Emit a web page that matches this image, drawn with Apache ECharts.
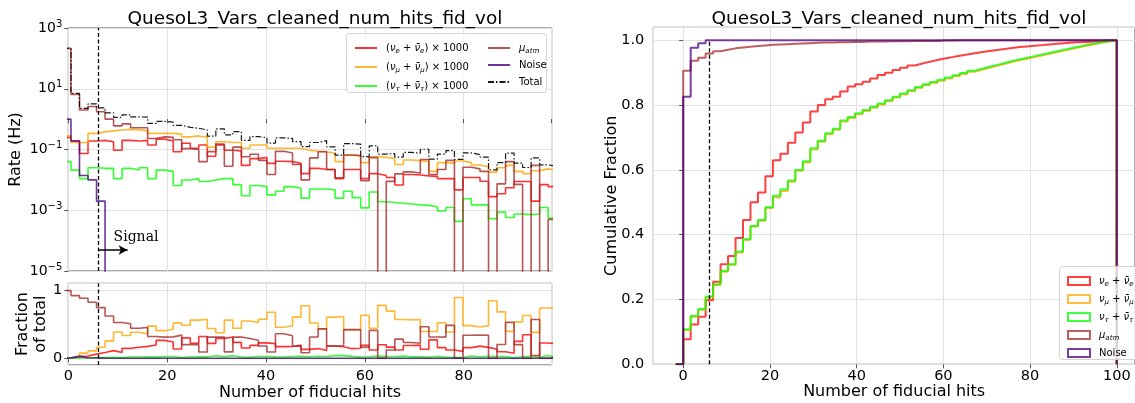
<!DOCTYPE html>
<html>
<head>
<meta charset="utf-8">
<script src="https://cdn.jsdelivr.net/npm/echarts@6/dist/echarts.min.js"></script>
<style>
  html, body { margin: 0; padding: 0; background: #ffffff; }
  #chart { width: 1135px; height: 403px; }
</style>
</head>
<body>
<div id="chart"></div>
<script>
// ---------------------------------------------------------------------------
// Binning of the fiducial-hit histograms
// ---------------------------------------------------------------------------
const BIN_WIDTH = 1.724;
const RATE_FIRST_EDGE = -1.184;   // lower edge of the first rate bin
const CUM_FIRST_EDGE = -1.724;    // lower edge of the first cumulative bin
const SIGNAL_CUT = 6;             // signal selection: hits above this value

// ---------------------------------------------------------------------------
// Rates per bin (Hz); neutrino flavours are scaled by 1000
// ---------------------------------------------------------------------------
const rateNuE1000 = [0.25, 0.19, 0.074, 0.19, 0.2, 0.18, 0.095, 0.2, 0.19, 0.2,
  0.14, 0.22, 0.19, 0.084, 0.16, 0.11, 0.14, 0.06, 0.14, 0.095,
  0.09, 0.03, 0.05, 0.055, 0.035, 0.041, 0.04, 0.035, 0.016, 0.024,
  0.022, 0.022, 0.011, 0.022, 0.022, 0.011, 0.016, 0.014, 0.012, 0.0068,
  0.015, 0.0145, 0.0135, 0.013, 0.011, 0.011, 0.0047, 0.012, 0.012, 0.009,
  0.0028, 0.0035, 0.0055, 0.0088, 0.0088, 0.002, 0.007, 0.006];

const rateNuMu1000 = [0.28, 0.17, 0.17, 0.34, 0.38, 0.41, 0.44, 0.46, 0.45, 0.41,
  0.34, 0.34, 0.34, 0.32, 0.26, 0.28, 0.25, 0.12, 0.18, 0.17,
  0.17, 0.11, 0.14, 0.14, 0.11, 0.11, 0.11, 0.11, 0.095, 0.088,
  0.084, 0.074, 0.04, 0.065, 0.062, 0.037, 0.058, 0.055, 0.051, 0.032,
  0.045, 0.043, 0.04, 0.019, 0.037, 0.035, 0.042, 0.037, 0.031, 0.027,
  0.018, 0.025, 0.03, 0.019, 0.016, 0.02, 0.023, 0.021];

const rateNuTau1000 = [0.04, 0.021, 0.011, 0.025, 0.024, 0.024, 0.011, 0.024, 0.021, 0.025,
  0.011, 0.021, 0.019, 0.0065, 0.0099, 0.011, 0.0088, 0.0099, 0.011, 0.011,
  0.007, 0.003, 0.0065, 0.006, 0.0032, 0.0042, 0.006, 0.0053, 0.0025, 0.005,
  0.005, 0.0047, 0.0025, 0.0042, 0.0026, 0.0012, 0.004, 0.0019, 0.0018, 0.0017,
  0.0016, 0.0015, 0.00145, 0.0013, 0.00095, 0.00123, 0.00043, 0.0024, 0.0015, 0.0015,
  0.00053, 0.00087, 0.00058, 0.00075, 0.00072, 0.00075, 0.00123, 0.00055];

const rateMuAtm = [214, 6.5, 2.0, 2.6, 1.75, 1.0, 0.6, 0.7, 0.52, 0.52,
  0.23, 0.26, 0.25, 0.21, 0.107, 0.10, 0.04, 0.085, 0.15, 0.028,
  0.12, 0.058, 0.07, 0.044, 0.015, 0.087, 0.077, 0.032, 0.01, 0.053,
  0.084, 0.022, 0.0117, 0.066, 0.063, 0.0094, 0.054, 0, 0.0089, 0.0157,
  0.0184, 0.0166, 0.047, 0.015, 0.022, 0.044, 0, 0.026, 0.023, 0.019,
  0, 0.0074, 0.04, 0.0071, 0, 0.03, 0, 0.0005];

const rateNoise = [1.0, 0.19, 0.014, 0.01, 0.002, 0, 0, 0, 0, 0,
  0, 0, 0, 0, 0, 0, 0, 0, 0, 0,
  0, 0, 0, 0, 0, 0, 0, 0, 0, 0,
  0, 0, 0, 0, 0, 0, 0, 0, 0, 0,
  0, 0, 0, 0, 0, 0, 0, 0, 0, 0,
  0, 0, 0, 0, 0, 0, 0, 0];

// ---------------------------------------------------------------------------
// Cumulative fractions per bin (first bin lies below zero hits)
// ---------------------------------------------------------------------------
const cumNuE = [0, 0.077, 0.123, 0.147, 0.198, 0.255, 0.309, 0.334, 0.39, 0.445, 0.50,
  0.53, 0.58, 0.63, 0.65, 0.684, 0.715, 0.746, 0.78, 0.80, 0.818,
  0.826, 0.842, 0.857, 0.864, 0.872, 0.882, 0.893, 0.9, 0.908, 0.915,
  0.922, 0.928, 0.934, 0.939, 0.944, 0.948, 0.952, 0.956, 0.96, 0.964,
  0.967, 0.97, 0.973, 0.976, 0.979, 0.981, 0.983, 0.985, 0.987, 0.989,
  0.991, 0.993, 0.994, 0.995, 0.996, 0.998, 0.999, 1.0];

const cumNuMu = [0, 0.106, 0.147, 0.168, 0.206, 0.245, 0.286, 0.307, 0.345, 0.384, 0.425,
  0.443, 0.482, 0.515, 0.535, 0.563, 0.597, 0.623, 0.663, 0.687, 0.71,
  0.724, 0.749, 0.76, 0.772, 0.782, 0.792, 0.802, 0.812, 0.823, 0.833,
  0.843, 0.853, 0.861, 0.868, 0.875, 0.882, 0.889, 0.896, 0.903, 0.909,
  0.915, 0.921, 0.927, 0.933, 0.938, 0.943, 0.948, 0.953, 0.958, 0.963,
  0.968, 0.973, 0.978, 0.983, 0.988, 0.992, 0.996, 1.0];

const cumNuTau = [0, 0.108, 0.149, 0.171, 0.209, 0.247, 0.289, 0.309, 0.348, 0.386, 0.427,
  0.445, 0.485, 0.52, 0.54, 0.567, 0.6, 0.627, 0.667, 0.69, 0.713,
  0.727, 0.752, 0.763, 0.775, 0.785, 0.795, 0.805, 0.815, 0.826, 0.836,
  0.846, 0.856, 0.864, 0.871, 0.878, 0.885, 0.892, 0.899, 0.906, 0.912,
  0.918, 0.924, 0.93, 0.936, 0.941, 0.946, 0.951, 0.956, 0.961, 0.966,
  0.971, 0.976, 0.981, 0.986, 0.99, 0.994, 0.997, 1.0];

const cumMuAtm = [0, 0.906, 0.937, 0.946, 0.959, 0.966, 0.971, 0.975, 0.978, 0.98, 0.982,
  0.984, 0.986, 0.987, 0.988, 0.989, 0.99, 0.991, 0.992, 0.993, 0.993,
  0.994, 0.994, 0.995, 0.995, 0.996, 0.996, 0.996, 0.997, 0.997, 0.997,
  0.998, 0.998, 0.998, 0.998, 0.999, 0.999, 1.0, 1.0, 1.0, 1.0,
  1.0, 1.0, 1.0, 1.0, 1.0, 1.0, 1.0, 1.0, 1.0, 1.0,
  1.0, 1.0, 1.0, 1.0, 1.0, 1.0, 1.0, 1.0];

const cumNoise = [0, 0.826, 0.977, 0.991, 1.0, 1.0, 1.0, 1.0, 1.0, 1.0, 1.0,
  1.0, 1.0, 1.0, 1.0, 1.0, 1.0, 1.0, 1.0, 1.0, 1.0,
  1.0, 1.0, 1.0, 1.0, 1.0, 1.0, 1.0, 1.0, 1.0, 1.0,
  1.0, 1.0, 1.0, 1.0, 1.0, 1.0, 1.0, 1.0, 1.0, 1.0,
  1.0, 1.0, 1.0, 1.0, 1.0, 1.0, 1.0, 1.0, 1.0, 1.0,
  1.0, 1.0, 1.0, 1.0, 1.0, 1.0, 1.0, 1.0];

// ---------------------------------------------------------------------------
// Styling
// ---------------------------------------------------------------------------
const FONT = 'DejaVu Sans';
const TXT = '#000000';
const COLORS = {
  nue: '#ff0000', numu: '#ffa500', nutau: '#00ff00',
  muatm: '#a52a2a', noise: '#4b0082', total: '#000000'
};
const LOG_FLOOR = -9;   // empty bins drop below the lower edge of the log axis

const LEGEND_TEXT = {
  nue: '({i|ν}{s|e} + {i|ν\u0304}{s|e}) × 1000',
  numu: '({i|ν}{s|μ} + {i|ν\u0304}{s|μ}) × 1000',
  nutau: '({i|ν}{s|τ} + {i|ν\u0304}{s|τ}) × 1000',
  muatm: '{i|μ}{s|atm}',
  noise: 'Noise',
  total: 'Total',
  c_nue: '{i|ν}{s|e} + {i|ν\u0304}{s|e}',
  c_numu: '{i|ν}{s|μ} + {i|ν\u0304}{s|μ}',
  c_nutau: '{i|ν}{s|τ} + {i|ν\u0304}{s|τ}',
  c_muatm: '{i|μ}{s|atm}',
  c_noise: 'Noise'
};
const LEGEND_RICH = {
  g: { width: 4 },
  i: { fontFamily: FONT, fontStyle: 'italic', fontSize: 10, lineHeight: 14, color: TXT },
  s: { fontFamily: FONT, fontStyle: 'italic', fontSize: 7, lineHeight: 8, verticalAlign: 'bottom', color: TXT }
};
const legendText = { fontFamily: FONT, fontSize: 10, lineHeight: 14, color: TXT, rich: LEGEND_RICH };

// ---------------------------------------------------------------------------
// Helpers: histogram outlines drawn as step polylines
// ---------------------------------------------------------------------------
function stepPath(values, firstEdge, width, f, base) {
  const pts = [[firstEdge, base]];
  for (let i = 0; i < values.length; i++) {
    const x0 = firstEdge + i * width;
    const y = f(values[i]);
    pts.push([x0, y], [x0 + width, y]);
  }
  pts.push([firstEdge + values.length * width, base]);
  return pts;
}
const toLog = v => (v > 0 ? Math.log10(v) : LOG_FLOOR);
const ident = v => v;

function line(name, data, color, axisIndex, opts) {
  opts = opts || {};
  return {
    name: name, type: 'line', xAxisIndex: axisIndex, yAxisIndex: axisIndex,
    data: data, showSymbol: false, symbol: 'none', clip: true, silent: true,
    animation: false,
    lineStyle: Object.assign({ color: color, width: opts.width || 1.6, opacity: opts.opacity || 0.8 }, opts.lineStyle || {}),
    itemStyle: { color: color },
    emphasis: { disabled: true },
    markLine: opts.markLine, markPoint: opts.markPoint,
    z: opts.z || 2
  };
}

// Totals and fractions
const components = {
  nue: rateNuE1000, numu: rateNuMu1000, nutau: rateNuTau1000,
  muatm: rateMuAtm, noise: rateNoise
};
const keys = ['nue', 'numu', 'nutau', 'muatm', 'noise'];
const rateTotal = rateNuE1000.map((_, i) => keys.reduce((s, k) => s + components[k][i], 0));
const fractions = {};
keys.forEach(k => { fractions[k] = components[k].map((v, i) => v / rateTotal[i]); });

const cumulative = { nue: cumNuE, numu: cumNuMu, nutau: cumNuTau, muatm: cumMuAtm, noise: cumNoise };

// Annotation anchors (data coordinates of the rate panel)
const SIGNAL_LABEL_AT = [13.7, -3.88];
const SIGNAL_ARROW = [[6.2, -4.31], [12.0, -4.31]];

const cutLine = { color: '#000', type: [4, 2.5], width: 1.3 };

// ---------------------------------------------------------------------------
// Series
// ---------------------------------------------------------------------------
const series = [];

// Rate panel
keys.forEach(k => {
  series.push(line(k, stepPath(components[k], RATE_FIRST_EDGE, BIN_WIDTH, toLog, LOG_FLOOR), COLORS[k], 0));
});
series.push(line('total', stepPath(rateTotal, RATE_FIRST_EDGE, BIN_WIDTH, toLog, LOG_FLOOR), COLORS.total, 0, {
  width: 1.2, opacity: 0.9, lineStyle: { type: [6, 2, 1.5, 2] }, z: 3,
  markLine: {
    silent: true, symbol: 'none', animation: false,
    label: { show: false },
    lineStyle: cutLine,
    data: [
      { xAxis: SIGNAL_CUT },
      [
        { coord: SIGNAL_ARROW[0], symbol: 'none', lineStyle: { color: '#000', type: 'solid', width: 1.5 } },
        { coord: SIGNAL_ARROW[1], symbol: 'arrow', symbolSize: [7, 9], lineStyle: { color: '#000', type: 'solid', width: 1.5 } }
      ]
    ]
  },
  markPoint: {
    silent: true, animation: false,
    symbol: 'circle', symbolSize: 1, itemStyle: { color: 'rgba(0,0,0,0)' },
    label: { show: true, position: 'inside', formatter: 'Signal', fontFamily: 'DejaVu Serif', fontSize: 14, color: '#000' },
    data: [{ coord: SIGNAL_LABEL_AT }]
  }
}));

// Fraction panel
keys.forEach((k, idx) => {
  const extra = idx === keys.length - 1 ? {
    markLine: { silent: true, symbol: 'none', animation: false, label: { show: false }, lineStyle: cutLine, data: [{ xAxis: SIGNAL_CUT }] }
  } : {};
  series.push(line('f_' + k, stepPath(fractions[k], RATE_FIRST_EDGE, BIN_WIDTH, ident, 0), COLORS[k], 1, extra));
});

// Cumulative panel
keys.forEach((k, idx) => {
  const extra = { width: 2, opacity: 0.75 };
  if (idx === keys.length - 1) {
    extra.markLine = {
      silent: true, symbol: 'none', animation: false, label: { show: false }, lineStyle: cutLine,
      data: [[{ coord: [SIGNAL_CUT, 0] }, { coord: [SIGNAL_CUT, 1] }]]
    };
  }
  series.push(line('c_' + k, stepPath(cumulative[k], CUM_FIRST_EDGE, BIN_WIDTH, ident, 0), COLORS[k], 2, extra));
});

// ---------------------------------------------------------------------------
// Axes
// ---------------------------------------------------------------------------
const gridLine = { show: true, lineStyle: { color: '#e2e2e2', width: 1 } };
const tick = { show: true, length: 4, inside: false, lineStyle: { color: '#555', width: 1 } };
const tickLabel = { fontFamily: FONT, fontSize: 14.5, color: TXT };
const axisName = { fontFamily: FONT, fontSize: 16, color: TXT };

const supDigits = n => (n < 0 ? '\u2212' + (-n) : String(n));

const option = {
  animation: false,
  backgroundColor: '#ffffff',
  textStyle: { fontFamily: FONT },
  title: [
    { text: 'QuesoL3_Vars_cleaned_num_hits_fid_vol', left: 310, top: 5, textAlign: 'center',
      textStyle: { fontFamily: FONT, fontSize: 18.5, fontWeight: 'normal', color: TXT } },
    { text: 'QuesoL3_Vars_cleaned_num_hits_fid_vol', left: 894, top: 5, textAlign: 'center',
      textStyle: { fontFamily: FONT, fontSize: 18.5, fontWeight: 'normal', color: TXT } }
  ],
  grid: [
    { left: 68.3, top: 28, width: 483.4, height: 243, show: true, borderColor: '#555', borderWidth: 1,
      backgroundColor: 'rgba(0,0,0,0)', containLabel: false, outerBoundsMode: 'none' },
    { left: 68.3, top: 283.3, width: 483.4, height: 81.7, show: true, borderColor: '#555', borderWidth: 1,
      backgroundColor: 'rgba(0,0,0,0)', containLabel: false, outerBoundsMode: 'none' },
    { left: 653.3, top: 27.3, width: 481.7, height: 337, show: true, borderColor: '#555', borderWidth: 1,
      backgroundColor: 'rgba(0,0,0,0)', containLabel: false, outerBoundsMode: 'none' }
  ],
  xAxis: [
    { gridIndex: 0, type: 'value', min: 0, max: 97.8, splitNumber: 5,
      axisLine: { show: false }, axisTick: tick, axisLabel: { show: false }, splitLine: gridLine },
    { gridIndex: 1, type: 'value', min: 0, max: 97.8, splitNumber: 5,
      axisLine: { show: false }, axisTick: tick,
      axisLabel: Object.assign({ margin: 4, showMaxLabel: false }, tickLabel),
      splitLine: gridLine,
      name: 'Number of fiducial hits', nameLocation: 'middle', nameGap: 20, nameMoveOverlap: false,
      nameTextStyle: axisName },
    { gridIndex: 2, type: 'value', min: -6.9, max: 104.2, splitNumber: 5,
      axisLine: { show: false }, axisTick: tick,
      axisLabel: Object.assign({ margin: 4, showMinLabel: false, showMaxLabel: false }, tickLabel),
      splitLine: gridLine,
      name: 'Number of fiducial hits', nameLocation: 'middle', nameGap: 20, nameMoveOverlap: false,
      nameTextStyle: axisName }
  ],
  yAxis: [
    { gridIndex: 0, type: 'value', min: -5, max: 3, interval: 2,
      axisLine: { show: false }, axisTick: tick, splitLine: gridLine,
      axisLabel: {
        margin: 6, color: TXT,
        formatter: v => '{b|10}{p|' + supDigits(Math.round(v)) + '}',
        rich: {
          b: { fontFamily: FONT, fontSize: 14, lineHeight: 18, color: TXT },
          p: { fontFamily: FONT, fontSize: 10, lineHeight: 10, verticalAlign: 'top', color: TXT }
        }
      },
      name: 'Rate (Hz)', nameLocation: 'middle', nameGap: 44, nameMoveOverlap: false, nameTextStyle: axisName },
    { gridIndex: 1, type: 'value', min: -0.1, max: 1.1, splitNumber: 1,
      axisLine: { show: false }, axisTick: tick, splitLine: gridLine,
      axisLabel: Object.assign({ margin: 6, showMinLabel: false, showMaxLabel: false }, tickLabel),
      name: 'Fraction\nof total', nameLocation: 'middle', nameGap: 18, nameMoveOverlap: false,
      nameTextStyle: Object.assign({ lineHeight: 18 }, axisName) },
    { gridIndex: 2, type: 'value', min: 0, max: 1.04, interval: 0.2,
      axisLine: { show: false }, axisTick: tick, splitLine: gridLine,
      axisLabel: Object.assign({ margin: 9, showMaxLabel: false, formatter: v => v.toFixed(1) }, tickLabel),
      name: 'Cumulative Fraction', nameLocation: 'middle', nameGap: 33, nameMoveOverlap: false, nameTextStyle: axisName }
  ],
  legend: [
    { id: 'rateFlavours', data: ['nue', 'numu', 'nutau'], left: 349, top: 36, orient: 'vertical',
      itemWidth: 22, itemHeight: 10, itemGap: 5, selectedMode: false, z: 20,
      itemStyle: { opacity: 0 },
      formatter: n => '{g| }' + LEGEND_TEXT[n], textStyle: legendText },
    { id: 'rateOthers', data: ['muatm', 'noise', 'total'], left: 482, top: 36, orient: 'vertical',
      itemWidth: 22, itemHeight: 10, itemGap: 3, selectedMode: false, z: 20,
      itemStyle: { opacity: 0 },
      formatter: n => '{g| }' + LEGEND_TEXT[n], textStyle: legendText },
    { id: 'cumulative', left: 1062, top: 269, orient: 'vertical',
      itemWidth: 22, itemHeight: 8, itemGap: 4, selectedMode: false, z: 20,
      data: keys.map(k => ({ name: 'c_' + k, icon: 'rect',
        itemStyle: { color: 'rgba(255,255,255,0)', borderColor: COLORS[k], borderWidth: 2, opacity: 0.75 } })),
      formatter: n => '{g| }' + LEGEND_TEXT[n], textStyle: legendText }
  ],
  graphic: [
    { type: 'rect', z: 10, silent: true,
      shape: { x: 346.5, y: 33.5, width: 200, height: 59, r: 3 },
      style: { fill: 'rgba(255,255,255,0.8)', stroke: '#d4d4d4', lineWidth: 1 } },
    { type: 'rect', z: 10, silent: true,
      shape: { x: 1059.5, y: 266.5, width: 80, height: 93, r: 3 },
      style: { fill: 'rgba(255,255,255,0.8)', stroke: '#d4d4d4', lineWidth: 1 } }
  ],
  series: series
};

const chart = echarts.init(document.getElementById('chart'), null, { renderer: 'canvas' });
chart.setOption(option);
</script>
</body>
</html>
